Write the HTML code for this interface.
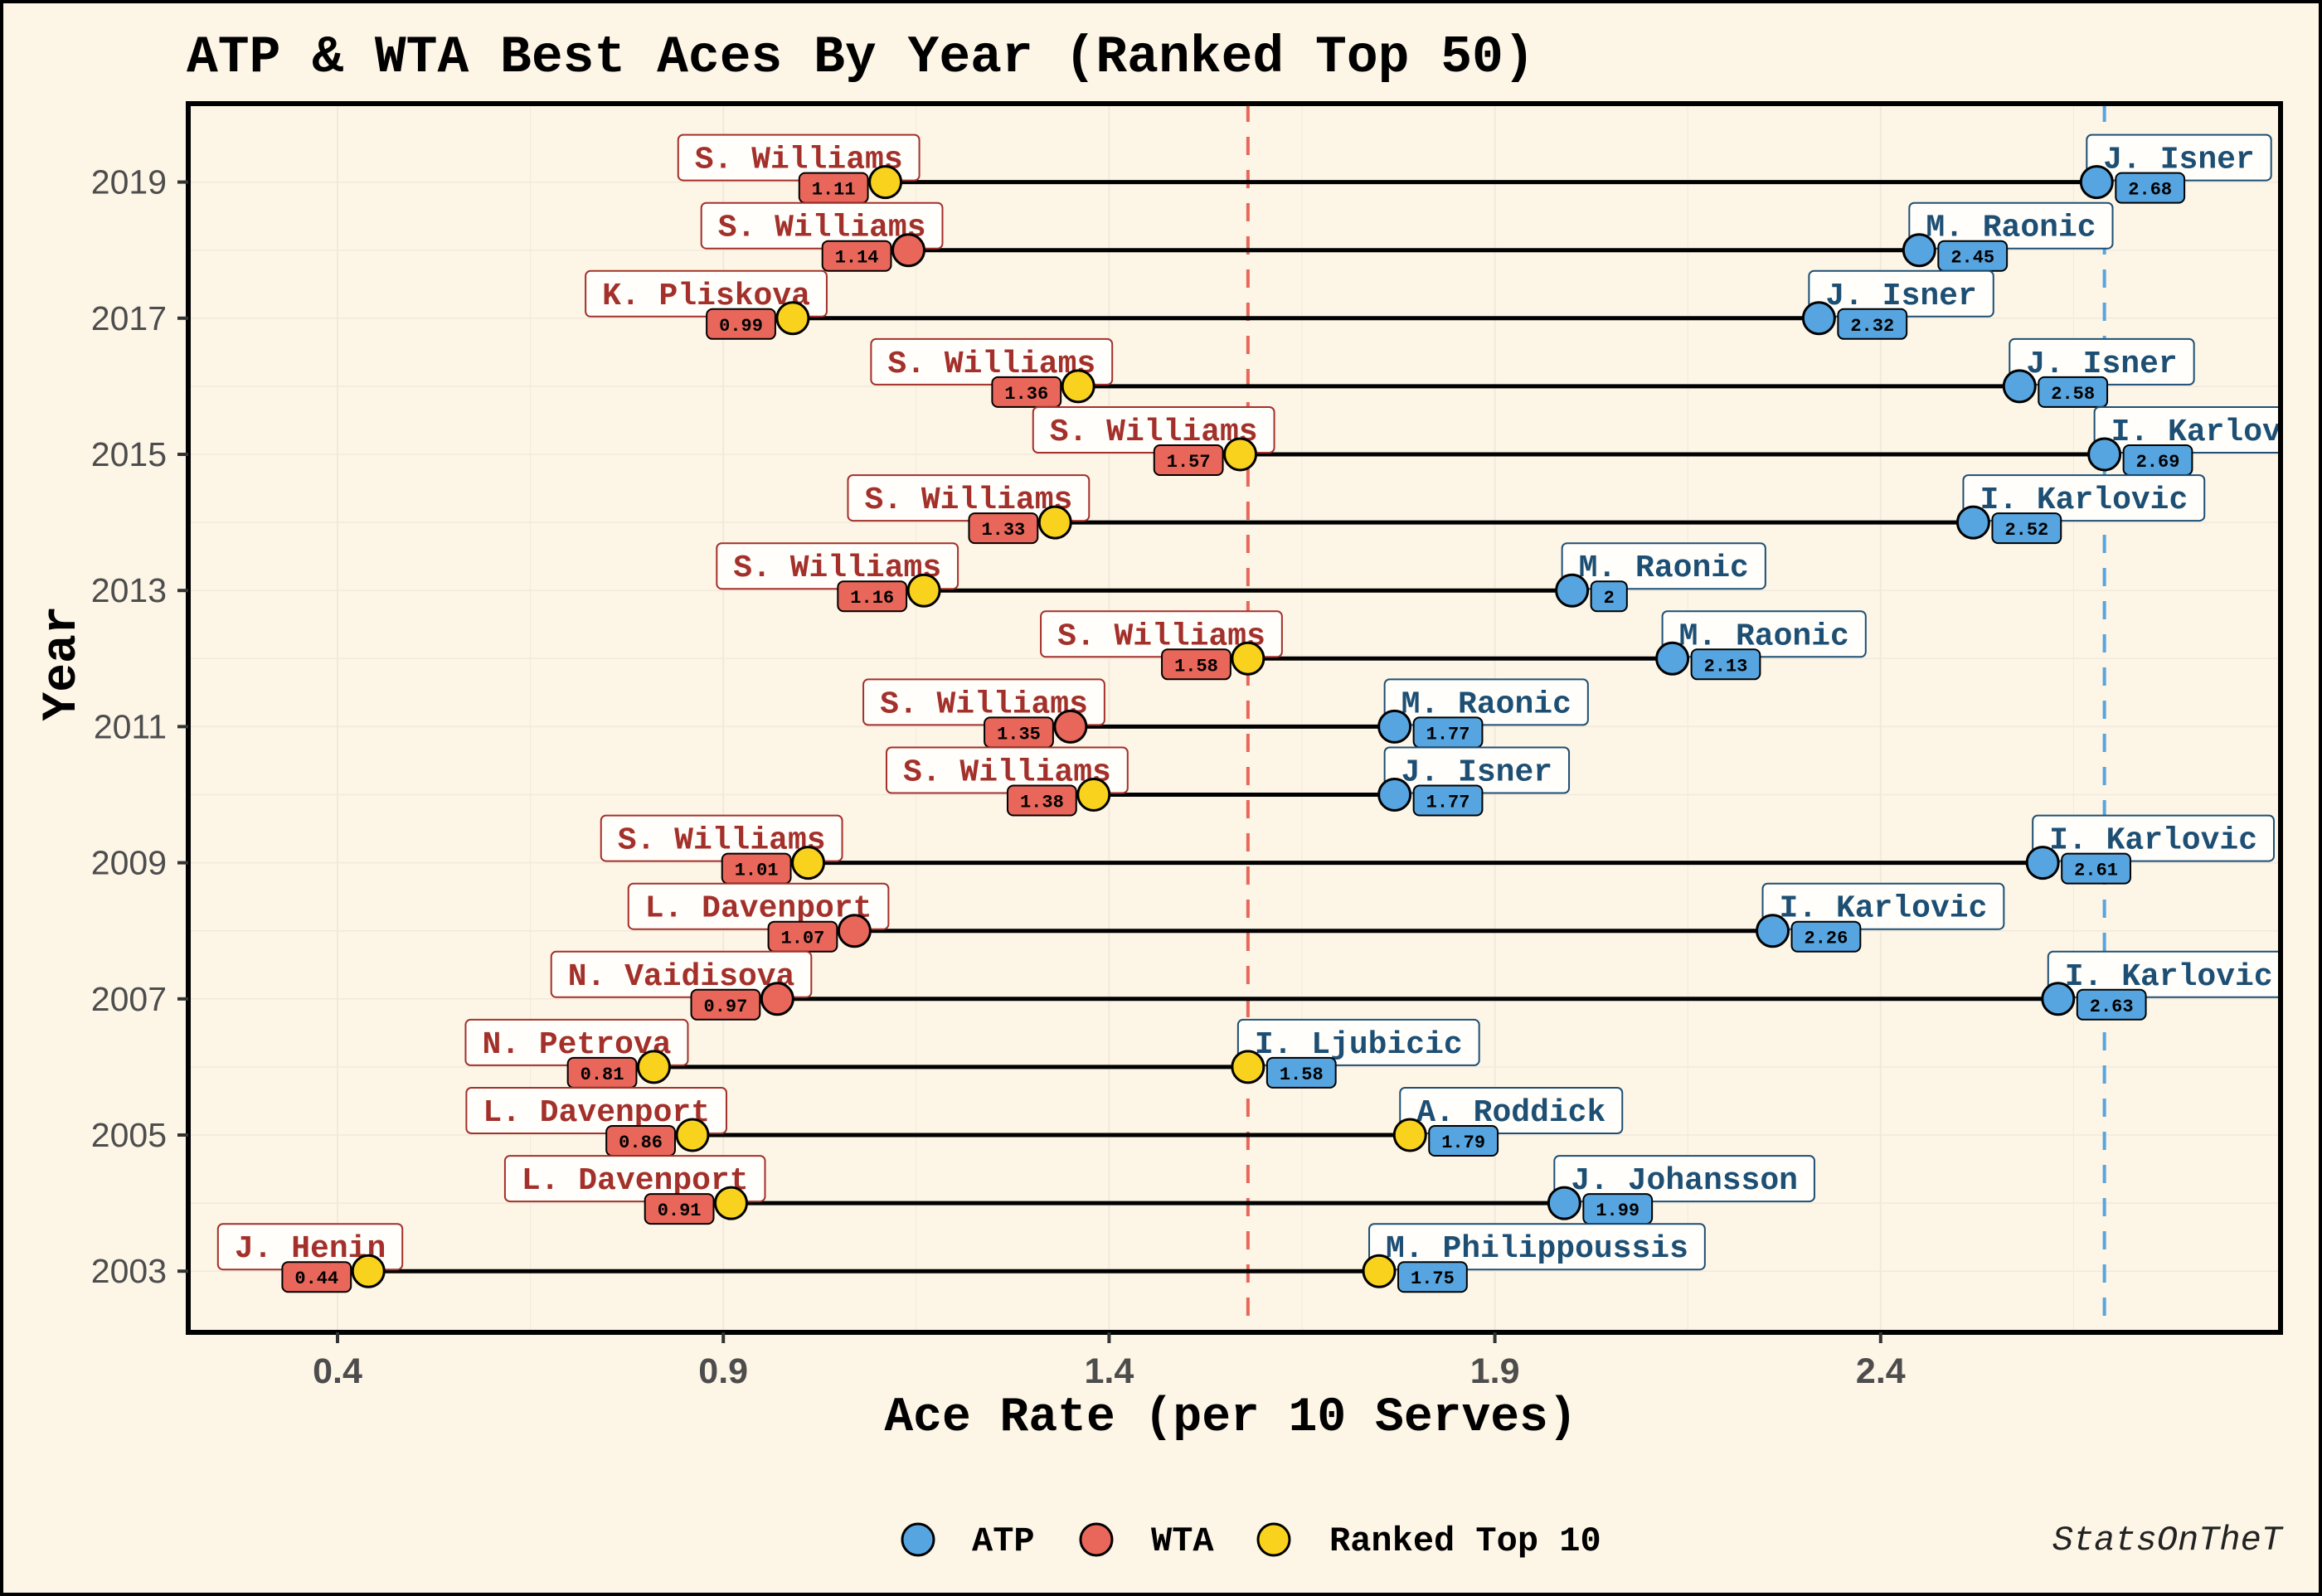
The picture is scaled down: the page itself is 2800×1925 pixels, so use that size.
<!DOCTYPE html>
<html><head><meta charset="utf-8"><style>
html,body{margin:0;padding:0;background:#fdf5e6;}
svg{display:block;}
.mono{font-family:"Liberation Mono",monospace;font-weight:bold;}
</style></head><body>
<svg id="chart" width="2800" height="1925" viewBox="0 0 2800 1925" xmlns="http://www.w3.org/2000/svg">
<rect x="0" y="0" width="2800" height="1925" fill="#fdf5e6" stroke="#000" stroke-width="8"/>
<text class="mono" x="225" y="86" font-size="63" fill="#000">ATP &amp; WTA Best Aces By Year (Ranked Top 50)</text>
<defs><clipPath id="pc"><rect x="227" y="125" width="2523" height="1482"/></clipPath></defs>
<g id="grid"></g>
<g id="plot" clip-path="url(#pc)"></g>
<rect x="227" y="125" width="2523" height="1482" fill="none" stroke="#000" stroke-width="6"/>
<g id="axes"></g>
<text class="mono" x="1484" y="1725" font-size="58" text-anchor="middle">Ace Rate (per 10 Serves)</text>
<text class="mono" x="0" y="0" font-size="58" text-anchor="middle" transform="translate(90,800) rotate(-90)">Year</text>
<g>
<g><circle cx="1107" cy="1857" r="19" fill="#56a5e0" stroke="#000" stroke-width="3"/><text class="mono" x="1172" y="1870" font-size="42">ATP</text></g>
<g><circle cx="1322" cy="1857" r="19" fill="#e8675a" stroke="#000" stroke-width="3"/><text class="mono" x="1388" y="1870" font-size="42">WTA</text></g>
<g><circle cx="1536" cy="1857" r="19" fill="#f8d21c" stroke="#000" stroke-width="3"/><text class="mono" x="1603" y="1870" font-size="42">Ranked Top 10</text></g>
</g>
<text x="2752" y="1869" font-family="Liberation Mono,monospace" font-style="italic" font-size="42" text-anchor="end" fill="#222">StatsOnTheT</text>
</svg>
<script>
const years = [2019,2018,2017,2016,2015,2014,2013,2012,2011,2010,2009,2008,2007,2006,2005,2004,2003];
const wtaNames = ["S. Williams","S. Williams","K. Pliskova","S. Williams","S. Williams","S. Williams","S. Williams","S. Williams","S. Williams","S. Williams","S. Williams","L. Davenport","N. Vaidisova","N. Petrova","L. Davenport","L. Davenport","J. Henin"];
const wtaValues = [1.11,1.14,0.99,1.36,1.57,1.33,1.16,1.58,1.35,1.38,1.01,1.07,0.97,0.81,0.86,0.91,0.44];
const wtaLabels = ["1.11","1.14","0.99","1.36","1.57","1.33","1.16","1.58","1.35","1.38","1.01","1.07","0.97","0.81","0.86","0.91","0.44"];
const wtaTop10 = [1,0,1,1,1,1,1,1,0,1,1,0,0,1,1,1,1];
const atpNames = ["J. Isner","M. Raonic","J. Isner","J. Isner","I. Karlovic","I. Karlovic","M. Raonic","M. Raonic","M. Raonic","J. Isner","I. Karlovic","I. Karlovic","I. Karlovic","I. Ljubicic","A. Roddick","J. Johansson","M. Philippoussis"];
const atpValues = [2.68,2.45,2.32,2.58,2.69,2.52,2.00,2.13,1.77,1.77,2.61,2.26,2.63,1.58,1.79,1.99,1.75];
const atpLabels = ["2.68","2.45","2.32","2.58","2.69","2.52","2","2.13","1.77","1.77","2.61","2.26","2.63","1.58","1.79","1.99","1.75"];
const atpTop10 = [0,0,0,0,0,0,0,0,0,0,0,0,0,1,1,0,1];
const refLines = [1.58, 2.69];
const xTicks = [0.4,0.9,1.4,1.9,2.4];
const xTickLabels = ["0.4","0.9","1.4","1.9","2.4"];
const yTicks = [2019,2017,2015,2013,2011,2009,2007,2005,2003];

const NS="http://www.w3.org/2000/svg";
function x(v){return 407+(v-0.4)*930.4;}
function y(yr){return 219.6+(2019-yr)*82.1;}
function mk(tag,attrs,parent){const e=document.createElementNS(NS,tag);for(const k in attrs)e.setAttribute(k,attrs[k]);parent.appendChild(e);return e;}
const plot=document.getElementById('plot'),grid=document.getElementById('grid'),axes=document.getElementById('axes');
for(let i=0;i<=10;i++){const v=0.15+i*0.25;if(x(v)>227&&x(v)<2750){const l=mk('line',{x1:x(v),x2:x(v),y1:125,y2:1607,stroke:'#f1e9dc','stroke-width':i%2?2:1},grid);

}}
years.forEach(yr=>{const l=mk('line',{x1:227,x2:2750,y1:y(yr),y2:y(yr),stroke:'#f1e9dc','stroke-width':1.5},grid);

});
const refCols=['#e8675a','#56a5e0'];
refLines.forEach((v,i)=>{const l=mk('line',{x1:x(v),x2:x(v),y1:125,y2:1607,stroke:refCols[i],'stroke-width':4,'stroke-dasharray':'22 18'},plot);

});
years.forEach((yr,i)=>{const l=mk('line',{x1:x(wtaValues[i]),x2:x(atpValues[i]),y1:y(yr),y2:y(yr),stroke:'#000','stroke-width':5},plot);

});
const CW=22.8, VW=13.2;
function label(px,py,name,val,side,yr){
  const dark=side==='wta'?'#a3302a':'#1d4f74';
  const fill=side==='wta'?'#e8675a':'#56a5e0';
  const nw=name.length*CW+40;
  const nx=side==='wta'?px+41-nw:px-12;
  const g=mk('g',{},plot);
  
  
  mk('rect',{x:nx,y:py-57,width:nw,height:55,rx:6,fill:'#fffefb',stroke:dark,'stroke-width':2},g);
  const t=mk('text',{x:nx+20,y:py-17,'font-size':38,fill:dark,class:'mono'},g);t.textContent=name;
  const vw=val.length*VW+30;
  const vx=side==='wta'?px-21-vw:px+23;
  mk('rect',{x:vx,y:py-11,width:vw,height:36,rx:7,fill:fill,stroke:'#000','stroke-width':2},g);
  const vt=mk('text',{x:vx+vw/2,y:py+15,'font-size':22,'text-anchor':'middle',fill:'#000',class:'mono'},g);vt.textContent=val;
}
years.forEach((yr,i)=>{label(x(wtaValues[i]),y(yr),wtaNames[i],wtaLabels[i],'wta',yr);label(x(atpValues[i]),y(yr),atpNames[i],atpLabels[i],'atp',yr);});
years.forEach((yr,i)=>{
  const c1=mk('circle',{cx:x(wtaValues[i]),cy:y(yr),r:19,fill:wtaTop10[i]?'#f8d21c':'#e8675a',stroke:'#000','stroke-width':3},plot);
  
  
  const c2=mk('circle',{cx:x(atpValues[i]),cy:y(yr),r:19,fill:atpTop10[i]?'#f8d21c':'#56a5e0',stroke:'#000','stroke-width':3},plot);
  
  
});
xTicks.forEach((v,i)=>{mk('line',{x1:x(v),x2:x(v),y1:1607,y2:1620,stroke:'#333','stroke-width':4},axes);
  const t=mk('text',{x:x(v),y:1668,'font-size':43,'font-weight':'bold','text-anchor':'middle',fill:'#4d4d4d','font-family':'Liberation Sans,sans-serif'},axes);
  t.textContent=xTickLabels[i];
  
  });
yTicks.forEach(yr=>{mk('line',{x1:214,x2:227,y1:y(yr),y2:y(yr),stroke:'#333','stroke-width':4},axes);
  const t=mk('text',{x:201,y:y(yr)+14,'font-size':41,'text-anchor':'end',fill:'#4d4d4d','font-family':'Liberation Sans,sans-serif'},axes);
  t.textContent=yr;
  
  });
</script>
</body></html>
